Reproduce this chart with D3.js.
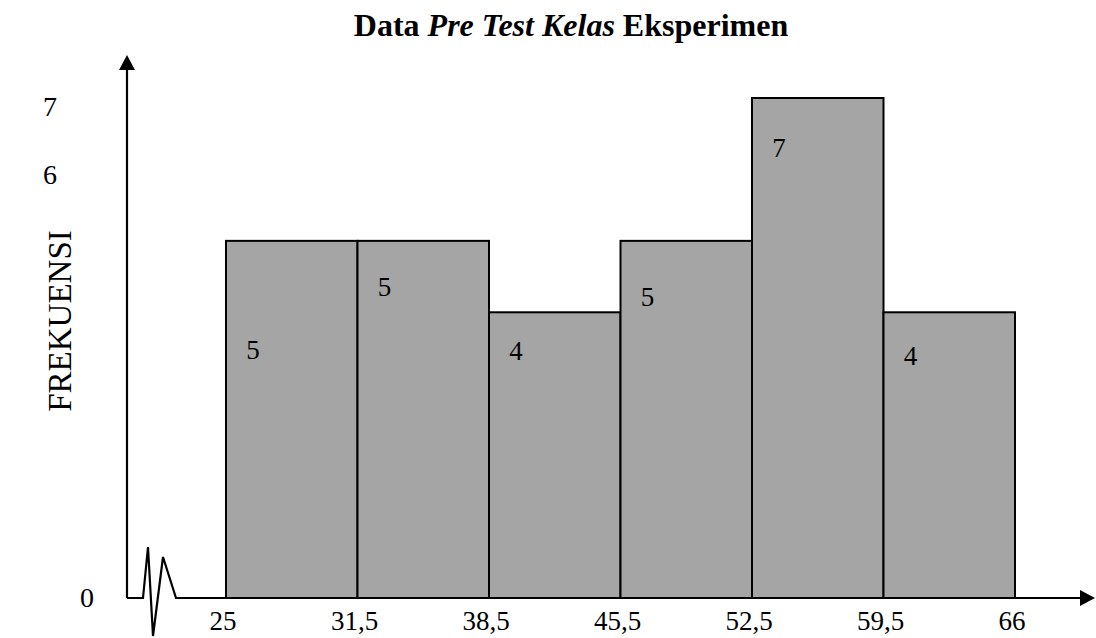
<!DOCTYPE html>
<html>
<head>
<meta charset="utf-8">
<script src="https://cdn.jsdelivr.net/npm/d3@7/dist/d3.min.js"></script>
<style>
  html, body { margin: 0; padding: 0; background: #fff; }
  svg { display: block; }
  text { font-family: "Liberation Serif", "Times New Roman", serif; fill: #000; }
</style>
</head>
<body>
<svg id="chart" width="1096" height="638"></svg>
<script>
// Class boundaries (x tick labels) and frequency per class
const boundaries = ["25", "31,5", "38,5", "45,5", "52,5", "59,5", "66"];
const frequencies = [5, 5, 4, 5, 7, 4];
const yTickValues = [0, 6, 7];

const W = 1096, H = 638;
const svg = d3.select("#chart");

const x = d3.scalePoint().domain(boundaries).range([226, 1015]);
const y = d3.scaleLinear().domain([0, 7]).range([598, 98]);

const axisX0 = 127;      // position of the vertical axis
const baseY = y(0);

// Arrow marker
const defs = svg.append("defs");
defs.append("marker")
  .attr("id", "arrow")
  .attr("viewBox", "0 0 16 16")
  .attr("refX", 1).attr("refY", 8)
  .attr("markerWidth", 16).attr("markerHeight", 16)
  .attr("markerUnits", "userSpaceOnUse")
  .attr("orient", "auto")
  .append("path").attr("d", "M0,0 L15,8 L0,16 Z").attr("fill", "#000");

// Bars
const bars = frequencies.map((v, i) => ({ v, x0: boundaries[i], x1: boundaries[i + 1] }));
svg.append("g").selectAll("rect").data(bars).join("rect")
  .attr("x", d => x(d.x0))
  .attr("y", d => y(d.v))
  .attr("width", d => x(d.x1) - x(d.x0))
  .attr("height", d => baseY - y(d.v))
  .attr("fill", "#a5a5a5")
  .attr("stroke", "#000")
  .attr("stroke-width", 2);

// Frequency labels inside the bars (hand-placed offsets below each bar top)
const labelDy = [118, 55, 48, 65, 59, 53];
svg.append("g").selectAll("text").data(bars).join("text")
  .attr("x", d => x(d.x0) + 27)
  .attr("y", (d, i) => y(d.v) + labelDy[i])
  .attr("text-anchor", "middle")
  .attr("font-size", 27)
  .text(d => d.v);

// Vertical axis with arrow
svg.append("line")
  .attr("x1", axisX0).attr("y1", baseY)
  .attr("x2", axisX0).attr("y2", 69)
  .attr("stroke", "#000").attr("stroke-width", 2.2)
  .attr("marker-end", "url(#arrow)");

// Horizontal axis with axis-break zigzag and arrow
const brk = d3.line()([
  [axisX0, baseY], [143, baseY], [148, 547], [153, 636],
  [163, 557], [176, baseY], [1081, baseY]
]);
svg.append("path")
  .attr("d", brk)
  .attr("fill", "none")
  .attr("stroke", "#000").attr("stroke-width", 2.2)
  .attr("stroke-linejoin", "miter")
  .attr("marker-end", "url(#arrow)");

// X tick labels at class boundaries
svg.append("g").selectAll("text").data(boundaries).join("text")
  .attr("x", d => x(d) - 3)
  .attr("y", 630)
  .attr("text-anchor", "middle")
  .attr("font-size", 27)
  .text(d => d);

// Y tick labels
svg.append("g").selectAll("text").data(yTickValues).join("text")
  .attr("x", d => d === 0 ? 87 : 50)
  .attr("y", d => y(d) + (d === 0 ? 9 : (d === 7 ? 18 : 15)))
  .attr("text-anchor", "middle")
  .attr("font-size", 28)
  .text(d => d);

// Y axis title
svg.append("text")
  .attr("transform", "translate(71,321) rotate(-90)")
  .attr("text-anchor", "middle")
  .attr("font-size", 33)
  .text("FREKUENSI");

// Chart title
const title = svg.append("text")
  .attr("x", 571).attr("y", 36)
  .attr("text-anchor", "middle")
  .attr("font-size", 32)
  .attr("font-weight", "bold");
title.append("tspan").text("Data ");
title.append("tspan").attr("font-style", "italic").text("Pre Test Kelas");
title.append("tspan").text(" Eksperimen");
</script>
</body>
</html>
